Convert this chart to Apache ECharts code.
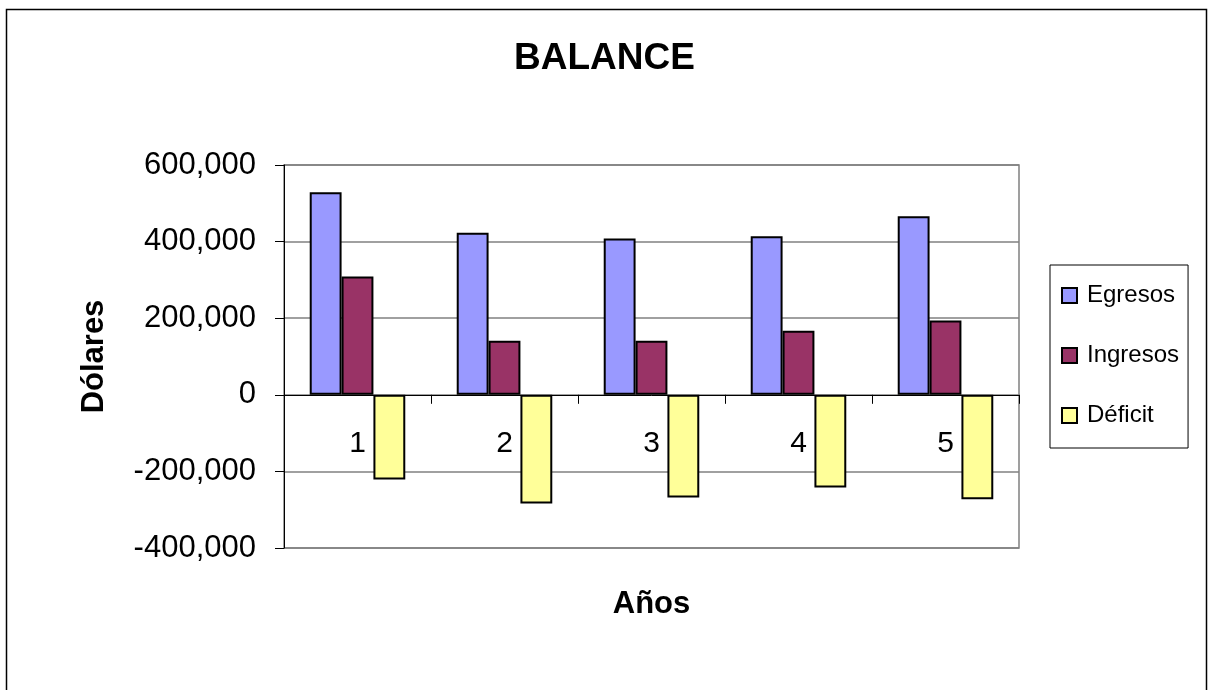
<!DOCTYPE html>
<html>
<head>
<meta charset="utf-8">
<script src="https://cdn.jsdelivr.net/npm/echarts@6/dist/echarts.min.js"></script>
<style>
html,body{margin:0;padding:0;background:#fff;}
#c{width:1209px;height:690px;}
</style>
</head>
<body>
<div id="c"></div>
<script>
var categories = ['1', '2', '3', '4', '5'];
var egresos = [529000, 423000, 408000, 414000, 466000];
var ingresos = [309000, 141000, 141000, 167000, 194000];
var deficit = [-221000, -284000, -268000, -242000, -273000];
var seriesNames = ['Egresos', 'Ingresos', 'Déficit'];
var yTicks = { min: -400000, max: 600000, interval: 200000 };

var FONT = '"Liberation Sans", Arial, sans-serif';
var chart = echarts.init(document.getElementById('c'), null, { renderer: 'canvas' });

function fmt(v) {
  var s = Math.abs(v).toString().replace(/\B(?=(\d{3})+(?!\d))/g, ',');
  return (v < 0 ? '-' : '') + s;
}

var barStyle = function (color) {
  return { color: color, borderColor: '#000', borderWidth: 2 };
};

chart.setOption({
  backgroundColor: '#fff',
  animation: false,
  graphic: [{
    type: 'rect',
    left: 4, top: 7,
    shape: { width: 1200, height: 720 },
    style: { fill: 'none', stroke: '#000', lineWidth: 1.5 },
    silent: true
  }],
  title: {
    text: 'BALANCE',
    left: 'center',
    top: 35,
    textStyle: { fontFamily: FONT, fontSize: 37, fontWeight: 'bold', color: '#000' }
  },
  legend: {
    orient: 'vertical',
    left: 1050,
    top: 265,
    padding: [18, 9, 20, 11],
    itemGap: 35,
    itemWidth: 15,
    itemHeight: 15,
    icon: 'rect',
    borderColor: '#000',
    borderWidth: 1,
    backgroundColor: '#fff',
    textStyle: { fontFamily: FONT, fontSize: 24, color: '#000', lineHeight: 25, padding: [0, 0, 0, 5] },
    data: seriesNames
  },
  grid: {
    left: 284, right: 190, top: 165, bottom: 142,
    containLabel: false,
    outerBoundsMode: 'none',
    show: true, borderColor: '#808080', borderWidth: 1.5, backgroundColor: '#fff'
  },
  xAxis: {
    type: 'category',
    data: categories,
    name: 'Años',
    nameLocation: 'middle',
    nameGap: 41,
    nameMoveOverlap: false,
    nameTextStyle: { fontFamily: FONT, fontSize: 31, fontWeight: 'bold', color: '#000' },
    axisLine: { onZero: true, lineStyle: { color: '#000', width: 1 } },
    axisTick: { show: true, length: 9, lineStyle: { color: '#000' } },
    axisLabel: { fontFamily: FONT, fontSize: 30, color: '#000', margin: -119 },
    splitLine: { show: false }
  },
  yAxis: {
    type: 'value',
    min: yTicks.min, max: yTicks.max, interval: yTicks.interval,
    name: 'Dólares',
    nameLocation: 'middle',
    nameGap: 174,
    nameRotate: 90,
    nameMoveOverlap: false,
    nameTextStyle: { fontFamily: FONT, fontSize: 31, fontWeight: 'bold', color: '#000' },
    axisLine: { show: true, lineStyle: { color: '#000', width: 1 } },
    axisTick: { show: true, length: 9, lineStyle: { color: '#000' } },
    axisLabel: { fontFamily: FONT, fontSize: 31, color: '#000', margin: 28, formatter: fmt },
    splitLine: { show: true, lineStyle: { color: '#808080', width: 1.5 } }
  },
  series: [
    { name: seriesNames[0], type: 'bar', data: egresos, barGap: '0%', barCategoryGap: '35%', itemStyle: barStyle('#9999FF') },
    { name: seriesNames[1], type: 'bar', data: ingresos, barGap: '0%', barCategoryGap: '35%', itemStyle: barStyle('#993366') },
    { name: seriesNames[2], type: 'bar', data: deficit, barGap: '0%', barCategoryGap: '35%', itemStyle: barStyle('#FFFF99') }
  ]
});
</script>
</body>
</html>
